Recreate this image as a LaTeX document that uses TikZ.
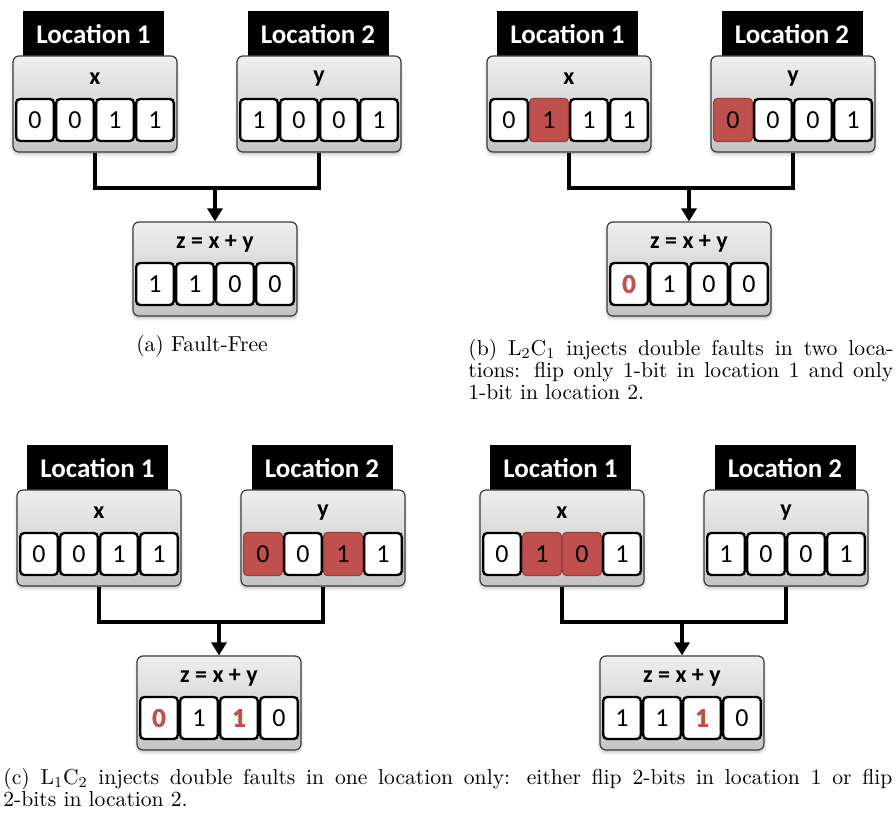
\documentclass[tikz,border=0pt]{standalone}
\usepackage{fontspec}
\newfontfamily\calibri{Carlito}
\newfontface\heavyfont{Carlito Bold}[FakeBold=1.6]
\usetikzlibrary{arrows.meta,shadows.blur}

\definecolor{faultred}{HTML}{C0504D}
\definecolor{faultdark}{HTML}{9B3D3A}
\definecolor{boxedge}{HTML}{3C3C3C}
\definecolor{boxtop}{HTML}{EEEEEE}
\definecolor{boxbottom}{HTML}{C4C4C4}

\tikzset{
  tab/.style={fill=black, text=white, inner sep=0pt,
    minimum width=70.5pt, minimum height=23.5pt,
    font=\calibri\bfseries\fontsize{13.5}{15}\selectfont},
  regbox/.style={draw=boxedge, line width=0.6pt, rounded corners=3pt,
    top color=boxtop, bottom color=boxbottom, inner sep=0pt,
    minimum width=82pt, minimum height=48pt,
    blur shadow={shadow xshift=0pt, shadow yshift=-1.2pt,
      shadow blur radius=1.5pt, shadow opacity=25}},
  reglabel/.style={font=\calibri\bfseries\fontsize{12}{14}\selectfont},
  cell/.style={draw=black, line width=1.2pt, fill=white, rounded corners=2pt,
    inner sep=0pt, minimum width=18.8pt, minimum height=21pt,
    font=\calibri\fontsize{13}{15}\selectfont},
  cell-n/.style={},
  cell-f/.style={fill=faultred, draw=faultdark, line width=0.6pt,
    minimum width=19.4pt, minimum height=21.6pt},
  cell-r/.style={text=faultred, font=\heavyfont\fontsize{13.5}{15}\selectfont},
  bitcell/.style={cell, cell-#1},
  wire/.style={line width=2pt, black},
  feed/.style={wire, -{Triangle[length=6.5pt, width=7.5pt]}},
  capt/.style={inner sep=0pt, font=\fontsize{10.8}{11}\selectfont},
}

% one row of four bit cells: prefix, left edge, centre line, list of value/kind
\newcommand\bitrow[4]{%
  \foreach \v/\k [count=\i from 0] in {#4} {
    \node[bitcell=\k] (#1-\i) at ({#2+22+40*\i},{#3}) {\v};
  }}

% two source registers feeding the sum register
\newcommand\faultpanel[6]{%
  \node[tab] (#1-t1) at ({#2+80.5},{#3-21.5}) {Location 1};
  \node[tab] (#1-t2) at ({#2+305},{#3-21.5}) {Location 2};
  \node[regbox] (#1-x) at ({#2+82},{#3+48}) {};
  \node[regbox] (#1-y) at ({#2+306},{#3+48}) {};
  \node[regbox, minimum height=47pt] (#1-z) at ({#2+202},{#3+213}) {};
  \node[reglabel] (#1-xl) at ({#2+82},{#3+23}) {x};
  \node[reglabel] (#1-yl) at ({#2+306},{#3+23}) {y};
  \node[reglabel] (#1-zl) at ({#2+202},{#3+188}) {z = x + y};
  \bitrow{#1-xb}{#2}{#3+64}{#4}
  \bitrow{#1-yb}{#2+224}{#3+64}{#5}
  \bitrow{#1-zb}{#2+120}{#3+228}{#6}
  \coordinate (#1-j) at ({#2+202},{#3+132});
  \draw[wire] (#1-x.south) |- (#1-j) -| (#1-y.south);
  \draw[feed] (#1-j) -- (#1-z.north);
}

\begin{document}
\begin{tikzpicture}[x=0.5pt, y=-0.5pt]
  \useasboundingbox (0,0) rectangle (896,818);

  % (a) fault-free
  \faultpanel{a}{13}{56}{0/n,0/n,1/n,1/n}{1/n,0/n,0/n,1/n}{1/n,1/n,0/n,0/n}
  % (b) one bit flipped in each location
  \faultpanel{b}{487}{56}{0/n,1/f,1/n,1/n}{0/f,0/n,0/n,1/n}{0/r,1/n,0/n,0/n}
  % (c) two bits flipped in location 2
  \faultpanel{c}{17}{490}{0/n,0/n,1/n,1/n}{0/f,0/n,1/f,1/n}{0/r,1/n,1/r,0/n}
  % (d) two bits flipped in location 1
  \faultpanel{d}{480}{490}{0/n,1/f,0/f,1/n}{1/n,0/n,0/n,1/n}{1/n,1/n,1/r,0/n}

  \node[capt, anchor=base] (capa) at (202,352) {(a) Fault-Free};
  \node[capt, anchor=north west, align=left] (capb) at (468,339) {%
    \makebox[212.5pt][s]{(b) $\mathrm{L_2C_1}$ injects double faults in two loca-}\\
    \makebox[212.5pt][s]{tions: flip only 1-bit in location 1 and only}\\
    1-bit in location 2.};
  \node[capt, anchor=north west, align=left] (capc) at (3,768) {%
    \makebox[444.5pt][s]{(c) $\mathrm{L_1C_2}$ injects double faults in one location only: either flip 2-bits in location 1 or flip}\\
    2-bits in location 2.};
\end{tikzpicture}
\end{document}
